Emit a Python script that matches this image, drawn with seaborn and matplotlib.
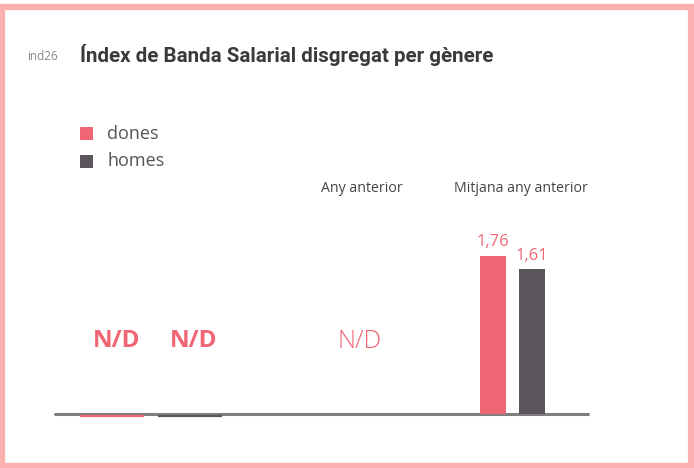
import matplotlib
matplotlib.use("Agg")
import matplotlib.pyplot as plt
import matplotlib.patches as mpatches
import pandas as pd
import seaborn as sns

# data
generes = ["dones", "homes"]
colors = {"dones": "#f06674", "homes": "#5b565c"}
any_actual = [0.0, 0.0]          # N/D -> drawn as flat bars
mitjana_anterior = [1.76, 1.61]
etiquetes = ["Any anterior", "Mitjana any anterior"]

sns.set_style("white")
plt.rcParams["font.family"] = ["Open Sans", "DejaVu Sans"]

fig = plt.figure(figsize=(6.94, 4.68), dpi=100)
ax = fig.add_axes([0, 0, 1, 1])
ax.set_xlim(0, 694)
ax.set_ylim(-0.6, 4.6)   # 90 px per unit, baseline at y=414px
ax.axis("off")

# pink frame
fig.patches.append(mpatches.Rectangle((1.5 / 694, 2 / 468), 689.5 / 694, 459 / 468,
                                      transform=fig.transFigure, fill=False,
                                      edgecolor="#fbb0b0", linewidth=4.5))

# baseline
ax.plot([55, 588], [0, 0], color="#808080", linewidth=2.2, zorder=1)

# current year (no data): flat bars
df1 = pd.DataFrame({"pos": [151, 151], "valor": any_actual, "genere": generes})
sns.barplot(data=df1, x="pos", y="valor", hue="genere", palette=colors,
            native_scale=True, width=155, gap=0.175, legend=False, ax=ax,
            saturation=1, linewidth=1.6, zorder=2)
for p in ax.patches:
    p.set_edgecolor(p.get_facecolor())
    p.set_y(-0.02)

# previous-years average
df3 = pd.DataFrame({"pos": [512.5, 512.5], "valor": mitjana_anterior, "genere": generes})
sns.barplot(data=df3, x="pos", y="valor", hue="genere", palette=colors,
            native_scale=True, width=78, gap=0.333, legend=False, ax=ax,
            saturation=1, linewidth=0, zorder=2)
ax.set_xlim(0, 694)
ax.set_ylim(-0.6, 4.6)

bars = ax.patches
for p in bars[:2]:
    ax.text(p.get_x() + p.get_width() / 2 + 4, 0.81, "N/D", ha="center", va="center",
            fontsize=17.5, fontweight="bold", color="#f06674")
for p, v in zip(bars[2:], mitjana_anterior):
    ax.text(p.get_x() + p.get_width() / 2, v + 0.06, f"{v:.2f}".replace(".", ","),
            ha="center", va="bottom", fontsize=12, color="#f06674")

ax.text(360, 0.81, "N/D", ha="center", va="center", fontsize=18,
        fontweight="light", color="#f06674")

fig.text(362 / 694, 1 - 189 / 468, etiquetes[0], ha="center", va="center",
         fontsize=10.2, color="#444444")
fig.text(521 / 694, 1 - 189 / 468, etiquetes[1], ha="center", va="center",
         fontsize=10.2, color="#444444")

# title
fig.text(27 / 694, 1 - 56 / 468, "ind26", ha="left", va="center", fontsize=8.5,
         color="#888888")
fig.text(80 / 694, 1 - 55 / 468, "Índex de Banda Salarial disgregat per gènere",
         ha="left", va="center", fontsize=14.8, fontweight="bold", color="#3a3a3a",
         family=["Roboto", "DejaVu Sans"])

# legend
for i, g in enumerate(generes):
    y = 1 - (134 + 27 * i) / 468
    fig.patches.append(mpatches.Rectangle((80 / 694, y - 6.5 / 468), 13 / 694, 13 / 468,
                                          transform=fig.transFigure,
                                          facecolor=colors[g], edgecolor="none"))
    fig.text(107 / 694, y, g, ha="left", va="center", fontsize=13, color="#555555")

fig.savefig("out.png", dpi=100)
